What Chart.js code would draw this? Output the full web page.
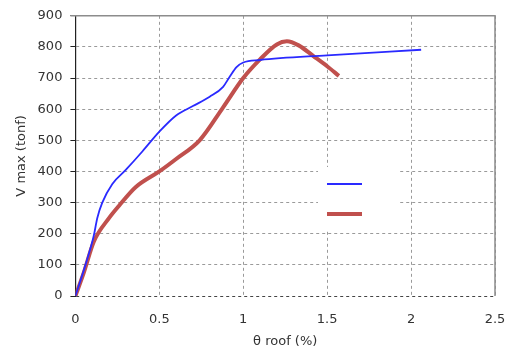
<!DOCTYPE html>
<html>
<head>
<meta charset="utf-8">
<script src="https://cdn.jsdelivr.net/npm/chart.js@4.4.1/dist/chart.umd.min.js"></script>
<style>
  html, body { margin: 0; padding: 0; background: #fff; }
  #wrap { width: 513px; height: 354px; }
</style>
</head>
<body>
<div id="wrap"><canvas id="grafico"></canvas></div>
<script>
// theta roof (%) e V max (tonf)
const thetaAzul = [0, 0.06, 0.11, 0.13, 0.16, 0.22, 0.30, 0.40, 0.50, 0.60, 0.70, 0.80, 0.88, 0.92, 0.96, 1.00, 1.10, 1.50, 2.06];
const vAzul     = [0, 100, 195, 250, 300, 360, 405, 465, 528, 580, 610, 640, 672, 705, 735, 750, 758, 773, 791];

const thetaVermelho = [0, 0.05, 0.11, 0.20, 0.26, 0.36, 0.50, 0.60, 0.74, 0.88, 1.00, 1.10, 1.20, 1.26, 1.33, 1.42, 1.50, 1.57];
const vVermelho     = [0, 75, 175, 250, 290, 350, 400, 440, 500, 606, 700, 760, 808, 818, 805, 770, 738, 707];

const xTicks = [0, 0.5, 1, 1.5, 2, 2.5];
const yTicks = [0, 100, 200, 300, 400, 500, 600, 700, 800, 900];

const fonte = 'DejaVu Sans';

function pontos(xs, ys) {
    return xs.map((x, i) => ({ x: x, y: ys[i] }));
}

// borda superior/direita cinza e caixa da legenda (sem texto)
const molduraPlugin = {
    id: 'moldura',
    afterDraw(chart) {
        const ctx = chart.ctx;
        const a = chart.chartArea;
        ctx.save();
        ctx.strokeStyle = '#8c8c8c';
        ctx.lineWidth = 1.5;
        ctx.beginPath();
        ctx.moveTo(a.left - 5, a.top);
        ctx.lineTo(a.right, a.top);
        ctx.lineTo(a.right, a.bottom);
        ctx.stroke();

        // legenda
        ctx.fillStyle = '#fff';
        ctx.fillRect(318, 167, 82, 62);
        chart.data.datasets.forEach((ds, i) => {
            const y = 184 + i * 30;
            ctx.strokeStyle = ds.borderColor;
            ctx.lineWidth = ds.borderWidth;
            ctx.beginPath();
            ctx.moveTo(327, y);
            ctx.lineTo(362, y);
            ctx.stroke();
        });
        ctx.restore();
    }
};

new Chart(document.getElementById('grafico'), {
    type: 'line',
    data: {
        datasets: [{
            label: '',
            data: pontos(thetaAzul, vAzul),
            borderColor: '#2a2aff',
            borderWidth: 1.8,
            pointRadius: 0,
            cubicInterpolationMode: 'monotone',
            fill: false
        }, {
            label: '',
            data: pontos(thetaVermelho, vVermelho),
            borderColor: '#c0504d',
            borderWidth: 4,
            pointRadius: 0,
            cubicInterpolationMode: 'monotone',
            fill: false
        }]
    },
    options: {
        responsive: true,
        maintainAspectRatio: false,
        animation: false,
        layout: { padding: { top: 15, right: 18, left: 14, bottom: 5.5 } },
        plugins: {
            legend: { display: false },
            tooltip: { enabled: false }
        },
        scales: {
            x: {
                type: 'linear',
                min: 0,
                max: 2.5,
                afterBuildTicks: (axis) => { axis.ticks = xTicks.map(v => ({ value: v })); },
                afterFit: (axis) => { axis.paddingRight = 10; },
                ticks: {
                    color: '#333',
                    font: { family: fonte, size: 13, lineHeight: 1 },
                    padding: 17.5,
                    callback: (v) => String(v)
                },
                grid: {
                    color: '#9a9a9a',
                    drawTicks: false
                },
                border: { display: false, dash: [3, 3] },
                title: {
                    display: true,
                    text: 'θ roof (%)',
                    color: '#333',
                    font: { family: fonte, size: 13, lineHeight: 1 },
                    padding: { top: -8.5, bottom: 0 }
                }
            },
            y: {
                min: 0,
                max: 900,
                afterBuildTicks: (axis) => { axis.ticks = yTicks.map(v => ({ value: v })); },
                ticks: {
                    color: '#333',
                    font: { family: fonte, size: 13 },
                    padding: 8
                },
                grid: {
                    color: (c) => c.tick && c.tick.value === 0 ? '#444' : '#9a9a9a',
                    tickLength: 5,
                    tickColor: '#222',
                    tickBorderDash: []
                },
                border: { display: true, color: '#222', width: 1.2, dash: [3, 3] },
                title: {
                    display: true,
                    text: 'V max (tonf)',
                    color: '#333',
                    font: { family: fonte, size: 13 },
                    padding: { top: 0, bottom: 0 }
                }
            }
        }
    },
    plugins: [molduraPlugin]
});
</script>
</body>
</html>
